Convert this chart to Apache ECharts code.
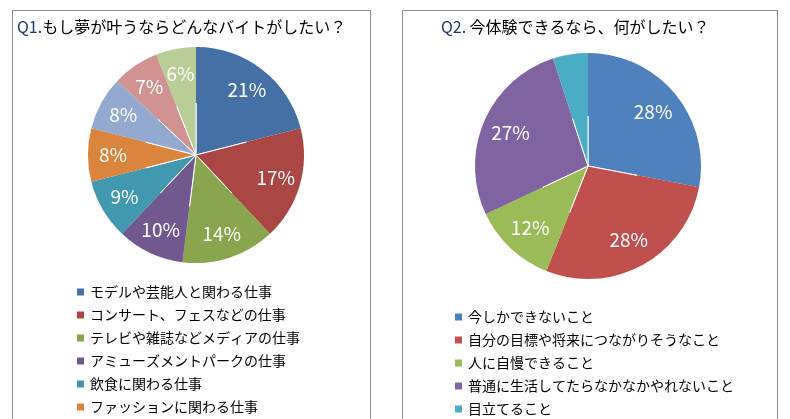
<!DOCTYPE html>
<html><head><meta charset="utf-8">
<script src="https://cdn.jsdelivr.net/npm/echarts@6/dist/echarts.min.js"></script>
<style>html,body{margin:0;padding:0;background:#fff}#c{width:790px;height:419px}</style>
</head><body><div id="c"></div>
<script>
const q1Names = ['モデルや芸能人と関わる仕事','コンサート、フェスなどの仕事','テレビや雑誌などメディアの仕事','アミューズメントパークの仕事','飲食に関わる仕事','ファッションに関わる仕事','スポーツに関わる仕事','ゲームに関わる仕事','その他'];
const q1Values = [21,17,14,10,9,8,8,7,6];
const q1Colors = ['#4470a5','#aa4643','#89a54e','#71588f','#4198af','#db843d','#93a9cf','#d19392','#b9cd96'];
const q2Names = ['今しかできないこと','自分の目標や将来につながりそうなこと','人に自慢できること','普通に生活してたらなかなかやれないこと','目立てること'];
const q2Values = [28,28,12,27,5];
const q2Colors = ['#4f81bd','#c0504d','#9bbb59','#8064a2','#4bacc6'];
const F = '"Noto Sans CJK JP", sans-serif';
const mk = (names, vals) => names.map((n,i)=>({name:n,value:vals[i]}));
const clear = n => n.map(()=> 'rgba(0,0,0,0)');
const chart = echarts.init(document.getElementById('c'));
const lbl = {position:'inside',color:'#fff',fontSize:19,fontFamily:F};
chart.setOption({
  animation:false,
  textStyle:{fontFamily:F},
  graphic:[
    {type:'rect',shape:{x:12.5,y:10.5,width:358,height:420},style:{fill:'none',stroke:'#8c8c8c',lineWidth:1}},
    {type:'rect',shape:{x:402.5,y:10.5,width:375,height:420},style:{fill:'none',stroke:'#8c8c8c',lineWidth:1}},
    {type:'text',left:17,top:19,style:{rich:{a:{fill:'#1f3864',fontSize:16,fontFamily:F},b:{fill:'#000',fontSize:16,fontFamily:F}},text:'{a|Q1.}{b|もし夢が叶うならどんなバイトがしたい？}'}},
    {type:'text',left:441,top:19,style:{rich:{a:{fill:'#1f3864',fontSize:16,fontFamily:F},b:{fill:'#000',fontSize:16,fontFamily:F}},text:'{a|Q2.} {b|今体験できるなら、何がしたい？}'}}
  ],
  legend:[
    {orient:'vertical',left:70,top:280,height:300,itemWidth:9,itemHeight:9,itemGap:9,icon:'rect',
     data:q1Names,textStyle:{fontSize:14,color:'#000',fontFamily:F}},
    {orient:'vertical',left:448,top:305,height:200,itemWidth:9,itemHeight:9,itemGap:9,icon:'rect',
     data:q2Names,textStyle:{fontSize:14,color:'#000',fontFamily:F}}
  ],
  series:[
    {type:'pie',center:[196,155],radius:108,startAngle:90,clockwise:true,
     color:q1Colors,data:mk(q1Names,q1Values),
     itemStyle:{borderColor:'#fff',borderWidth:1},label:{show:false},labelLine:{show:false}},
    {type:'pie',center:[196,155],radius:[52,108],startAngle:90,clockwise:true,silent:true,
     color:clear(q1Names),data:mk(q1Names,q1Values),
     label:Object.assign({formatter:'{c}%'},lbl),labelLine:{show:false}},
    {type:'pie',center:[588,166],radius:113,startAngle:90,clockwise:true,
     color:q2Colors,data:mk(q2Names,q2Values),
     itemStyle:{borderColor:'#fff',borderWidth:1},label:{show:false},labelLine:{show:false}},
    {type:'pie',center:[588,166],radius:[50,113],startAngle:90,clockwise:true,silent:true,
     color:clear(q2Names),data:mk(q2Names,q2Values),
     label:Object.assign({formatter:p=>p.dataIndex===4?'':p.value+'%'},lbl),labelLine:{show:false}}
  ]
});
</script></body></html>
